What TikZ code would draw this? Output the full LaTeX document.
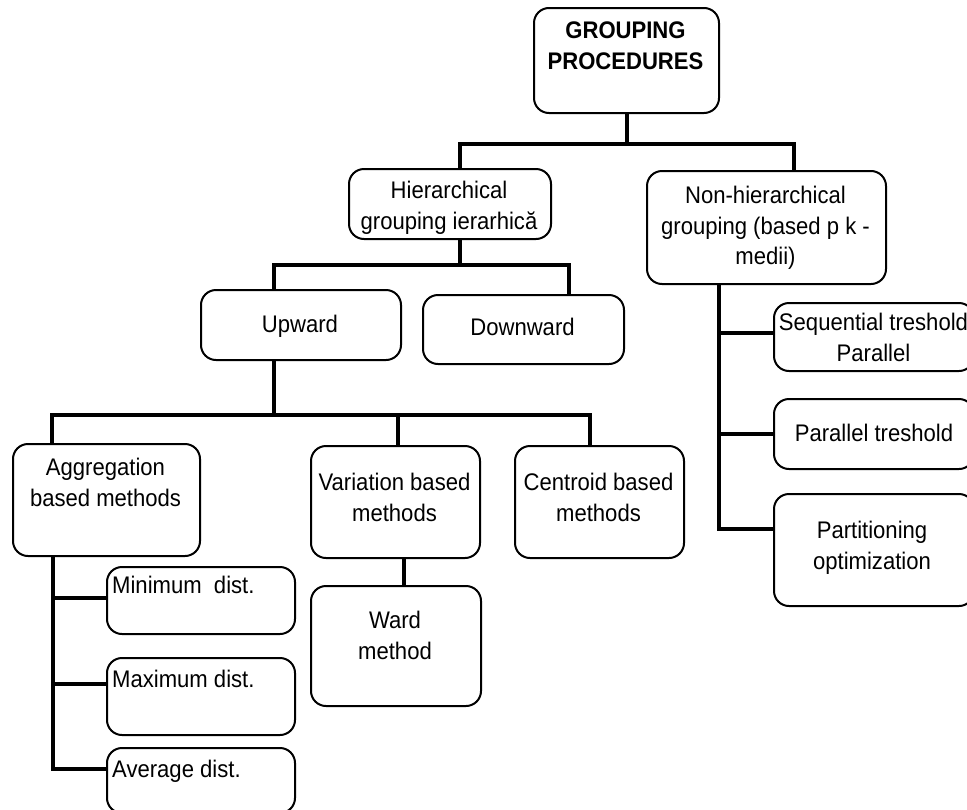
\documentclass[tikz,border=0pt]{standalone}
\usepackage{fontspec}
\setmainfont{Liberation Sans}[FakeStretch=0.92]
\tikzset{
  box/.style={draw, line width=2pt, rounded corners=15pt, inner sep=0pt, anchor=north west},
  txt/.style={font=\fontsize{24}{30.5}\selectfont, align=center, inner sep=0pt, anchor=north},
  title/.style={txt, font=\fontsize{24}{30.5}\selectfont\bfseries},
  conn/.style={line width=4pt},
}
\begin{document}
\begin{tikzpicture}[x=1pt, y=-1pt]
  \useasboundingbox (0,0) rectangle (967,809);

  % Boxes
  \node[box, minimum width=185pt, minimum height=105pt] (top) at (533,7) {};
  \node[box, minimum width=202pt, minimum height=70pt] (hier) at (348,168) {};
  \node[box, minimum width=239pt, minimum height=113pt] (nonhier) at (646,170) {};
  \node[box, minimum width=200pt, minimum height=70pt] (upward) at (200,289) {};
  \node[box, minimum width=201pt, minimum height=69pt] (downward) at (422,294) {};
  \node[box, minimum width=187pt, minimum height=112pt] (aggreg) at (12,443) {};
  \node[box, minimum width=169pt, minimum height=112pt] (variation) at (310,445) {};
  \node[box, minimum width=169pt, minimum height=112pt] (centroid) at (514,445) {};
  \node[box, minimum width=170pt, minimum height=120pt] (ward) at (310,585) {};
  \node[box, minimum width=188pt, minimum height=67pt] (minimum) at (106,566) {};
  \node[box, minimum width=188pt, minimum height=77pt] (maximum) at (106,657) {};
  \node[box, minimum width=188pt, minimum height=65pt] (average) at (106,747) {};
  \node[box, minimum width=200pt, minimum height=68pt] (seq) at (773,302) {};
  \node[box, minimum width=200pt, minimum height=70pt] (partree) at (773,398) {};
  \node[box, minimum width=200pt, minimum height=112pt] (partition) at (773,493) {};

  % Texts
  \node[title] (topT) at (625.5,22) {GROUPING\\PROCEDURES};
  \node[txt] (hierT) at (449,181) {Hierarchical\\grouping ierarhică};
  \node[txt] (nonhierT) at (765.5,186) {Non-hierarchical\\grouping (based p k -\\medii)};
  \node[txt] (upwardT) at (300,315) {Upward};
  \node[txt] (downwardT) at (522.5,318) {Downward};
  \node[txt] (aggregT) at (105.5,458) {Aggregation\\based methods};
  \node[txt] (variationT) at (394.5,473) {Variation based\\methods};
  \node[txt] (centroidT) at (598.5,473) {Centroid based\\methods};
  \node[txt] (wardT) at (395,611) {Ward\\method};
  \node[txt, anchor=north west] (minimumT) at (112,576) {Minimum\ \ dist.};
  \node[txt, anchor=north west] (maximumT) at (112,670) {Maximum dist.};
  \node[txt, anchor=north west] (averageT) at (112,760) {Average dist.};
  \node[txt] (seqT) at (873.5,313) {Sequential treshold\\Parallel};
  \node[txt] (partreeT) at (874,424) {Parallel treshold};
  \node[txt] (partitionT) at (872,521) {Partitioning\\optimization};

  % Connectors
  \draw[conn] (top.south) -- ++(0,30) coordinate (j1);
  \draw[conn] ([xshift=10pt]hier.north) |- (j1) -| ([xshift=27.5pt]nonhier.north);

  \draw[conn] ([xshift=10pt]hier.south) -- ++(0,25) coordinate (j2);
  \draw[conn] ([xshift=-27pt]upward.north) |- (j2) -| ([xshift=45.5pt]downward.north);

  \draw[conn] ([xshift=-27pt]upward.south) -- ++(0,54) coordinate (j3);
  \draw[conn] ([xshift=-54.5pt]aggreg.north) |- (j3) -| ([xshift=-9.5pt]centroid.north);
  \draw[conn] ([xshift=2.5pt]variation.north) -- ++(0,-32);

  \draw[conn] ([xshift=8.5pt]variation.south) -- ([xshift=8pt]ward.north);

  \foreach \n/\dy in {minimum/2.5, maximum/12.5, average/11.5}
    \draw[conn] ([xshift=-53.5pt]aggreg.south) |- ([yshift=\dy pt]\n.west);

  \foreach \n/\dy in {seq/4, partree/0, partition/21}
    \draw[conn] ([xshift=-47.5pt]nonhier.south) |- ([yshift=\dy pt]\n.west);
\end{tikzpicture}
\end{document}
